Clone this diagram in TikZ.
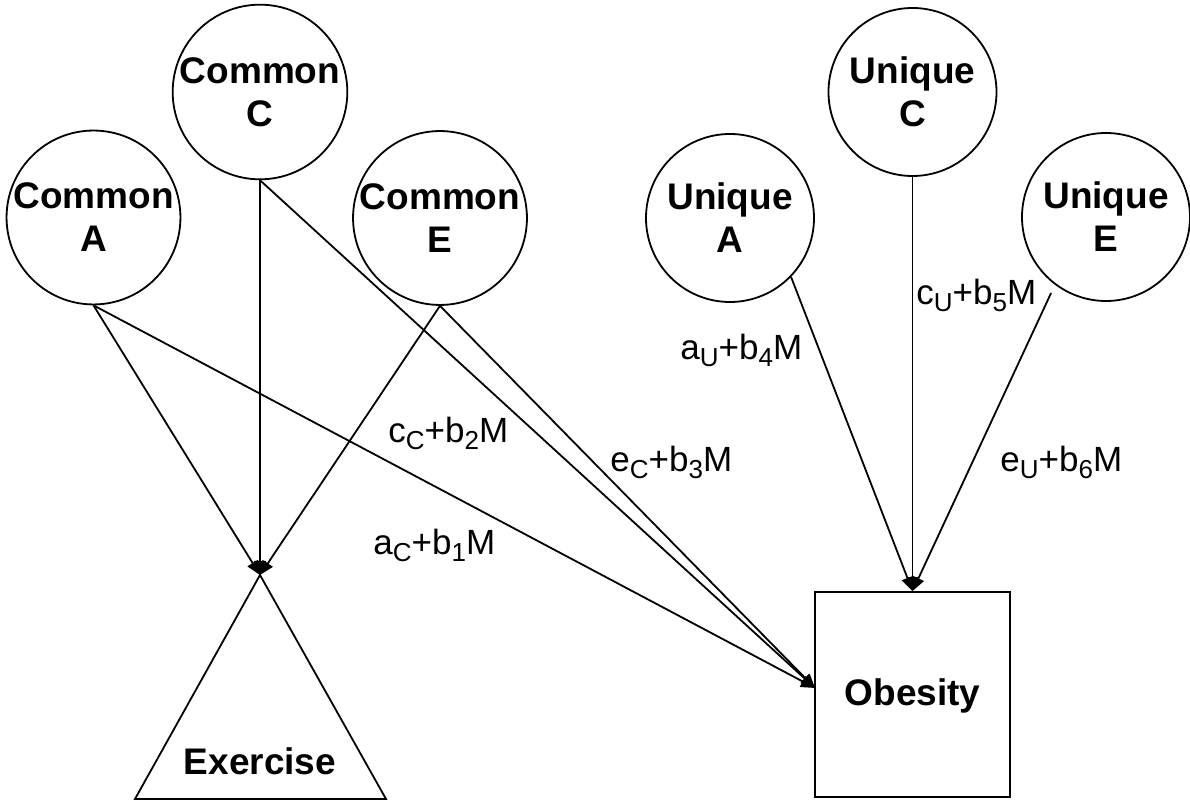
\documentclass[tikz,border=0pt]{standalone}
\usepackage{fontspec}
\setmainfont{Liberation Sans}
\usetikzlibrary{arrows.meta}
\newcommand{\lsub}[1]{\raisebox{-3.5pt}{\fontsize{13}{13}\selectfont #1}}
\begin{document}
\begin{tikzpicture}[x=0.5pt,y=-0.5pt,
  factor/.style={circle,draw,line width=0.9pt,minimum size=84pt,inner sep=0pt,align=center,
    font=\fontsize{18.5}{21.5}\selectfont\bfseries},
  conn/.style={draw,line width=0.9pt,-{Triangle[length=7pt,width=6pt]}},
  lbl/.style={anchor=base west,inner sep=0pt,font=\fontsize{17.5}{17.5}\selectfont},
  boxnode/.style={draw,line width=0.9pt,minimum width=97.5pt,minimum height=102.5pt,inner sep=0pt}
]
\useasboundingbox (0,0) rectangle (1190,801);

% latent factors
\node[factor] (ca) at (93.5,217.5) {Common\\A};
\node[factor] (cc) at (260,92) {Common\\C};
\node[factor] (ce) at (440,218) {Common\\E};
\node[factor] (ua) at (730,218) {Unique\\A};
\node[factor] (uc) at (912.5,92) {Unique\\C};
\node[factor] (ue) at (1106,217) {Unique\\E};

% exercise triangle
\coordinate (exap) at (260,575);
\coordinate (exbl) at (135,799);
\coordinate (exbr) at (386,799);
\draw[line width=0.9pt] (exap) -- (exbl) -- (exbr) -- cycle;
\node[anchor=base,inner sep=0pt,font=\fontsize{18.5}{21.5}\selectfont\bfseries] (ex) at (260,775) {Exercise};

% obesity box
\node[boxnode] (ob) at (912.5,694.5) {};
\node[anchor=base,inner sep=0pt,font=\fontsize{18.5}{21.5}\selectfont\bfseries] (obt) at (912.5,706) {Obesity};
\coordinate (obin) at (815,688);

% connectors
\draw[conn] (ca.south) -- (exap);
\draw[conn] (cc.south) -- (exap);
\draw[conn] (ce.south) -- (exap);
\draw[conn] (ca.south) -- (obin);
\draw[conn] (cc.south) -- (obin);
\draw[conn] (ce.south) -- (obin);
\draw[conn] (ua.-44) -- (ob.north);
\draw[conn] (uc.south) -- (ob.north);
\draw[conn,shorten <=4.5pt] (ue.-127) -- (ob.north);

% labels
\node[lbl] (l1) at (373,555) {a\lsub{C}+b\lsub{1}M};
\node[lbl] (l2) at (388,443) {c\lsub{C}+b\lsub{2}M};
\node[lbl] (l3) at (610,472) {e\lsub{C}+b\lsub{3}M};
\node[lbl] (l4) at (680,360) {a\lsub{U}+b\lsub{4}M};
\node[lbl] (l5) at (916,305) {c\lsub{U}+b\lsub{5}M};
\node[lbl] (l6) at (1000,472) {e\lsub{U}+b\lsub{6}M};
\end{tikzpicture}
\end{document}
